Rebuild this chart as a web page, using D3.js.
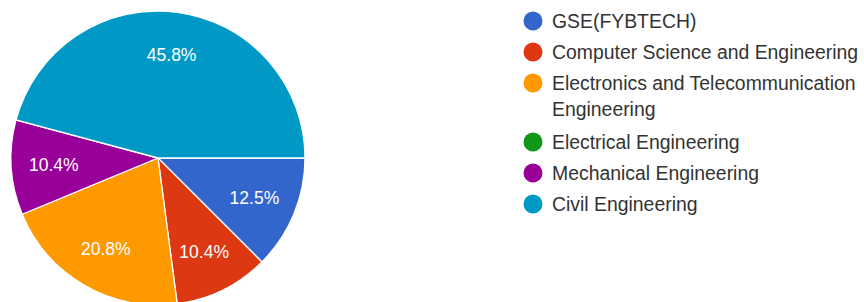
<!DOCTYPE html>
<html>
<head>
<meta charset="utf-8">
<script src="https://cdn.jsdelivr.net/npm/d3@7"></script>
<style>
  body { margin: 0; background: #fff; }
  svg { display: block; font-family: "Liberation Sans", Arial, sans-serif; }
</style>
</head>
<body>
<svg id="chart" width="864" height="302"></svg>
<script>
// ----------------------------
// Chart data
// ----------------------------
var departments = [
    "GSE(FYBTECH)",
    "Computer Science and Engineering",
    "Electronics and Telecommunication Engineering",
    "Electrical Engineering",
    "Mechanical Engineering",
    "Civil Engineering"
];
var responses = [6, 5, 10, 0, 5, 22];
var sliceColors = ["#3366cc", "#dc3912", "#ff9900", "#109618", "#990099", "#0099c6"];

var width = 864,
    height = 302,
    cx = 158,
    cy = 158,
    radius = 147;

var svg = d3.select("#chart");

//----------------------------
// Pie
//----------------------------
var total = d3.sum(responses);

var pie = d3.pie()
    .value(d => d)
    .sort(null)
    .startAngle(Math.PI / 2)
    .endAngle(Math.PI / 2 + 2 * Math.PI);

var arc = d3.arc().innerRadius(0).outerRadius(radius);
var labelArc = d3.arc().innerRadius(radius * 0.71).outerRadius(radius * 0.71);

var arcs = pie(responses);

var pieG = svg.append("g").attr("transform", `translate(${cx},${cy})`);

pieG.selectAll("path.slice")
    .data(arcs.filter(d => d.value > 0))
    .enter().append("path")
    .attr("class", "slice")
    .attr("d", arc)
    .attr("fill", d => sliceColors[d.index])
    .attr("stroke", "#fff")
    .attr("stroke-width", 1.3);

pieG.selectAll("text.pct")
    .data(arcs.filter(d => d.value > 0))
    .enter().append("text")
    .attr("class", "pct")
    .attr("transform", d => `translate(${labelArc.centroid(d)})`)
    .attr("text-anchor", "middle")
    .attr("dy", "0.36em")
    .attr("fill", "#fff")
    .attr("font-size", "17.5px")
    .text(d => (d.value / total * 100).toFixed(1) + "%");

//----------------------------
// Legend
//----------------------------
var legendX = 533,
    textX = 552,
    maxTextWidth = width - textX - 2,
    wrapHeight = 26,
    lineAdvance = 28,
    rowGap = 31;

var y = 21;
departments.forEach(function (name, i) {
    var row = svg.append("g");
    row.append("circle")
        .attr("cx", legendX)
        .attr("cy", y)
        .attr("r", 9.5)
        .attr("fill", sliceColors[i]);

    var text = row.append("text")
        .attr("x", textX)
        .attr("y", y)
        .attr("dy", "0.36em")
        .attr("fill", "#333")
        .attr("font-size", "19.4px");

    // Wrap the label when it does not fit
    var words = name.split(" "),
        line = [],
        lines = 0,
        tspan = text.append("tspan").attr("x", textX);
    words.forEach(function (w) {
        line.push(w);
        tspan.text(line.join(" "));
        if (tspan.node().getComputedTextLength() > maxTextWidth && line.length > 1) {
            line.pop();
            tspan.text(line.join(" "));
            line = [w];
            lines++;
            tspan = text.append("tspan").attr("x", textX).attr("dy", wrapHeight).text(w);
        }
    });

    y += rowGap + lines * lineAdvance;
});
</script>
</body>
</html>
